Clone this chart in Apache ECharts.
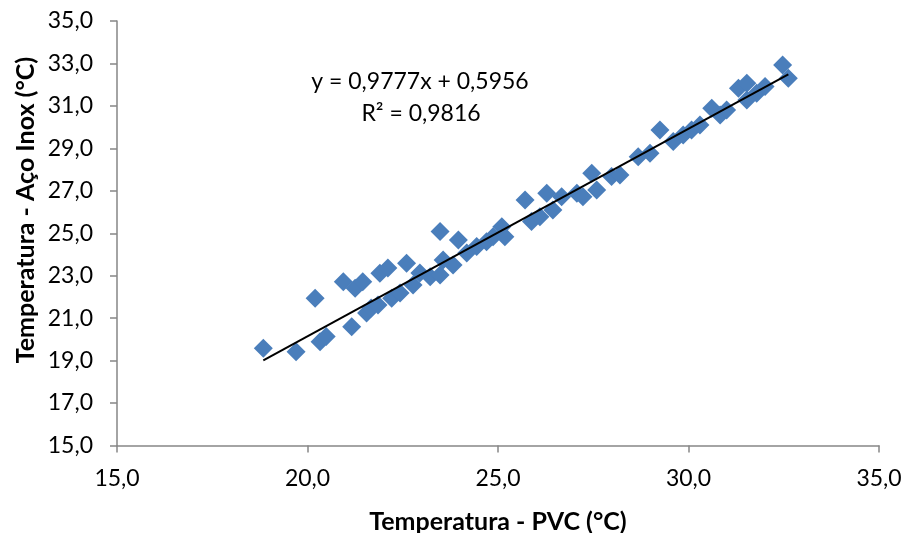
<!DOCTYPE html>
<html>
<head>
<meta charset="utf-8">
<script src="https://cdn.jsdelivr.net/npm/echarts@6/dist/echarts.min.js"></script>
<style>html,body{margin:0;padding:0;background:#fff}#c{width:906px;height:533px}</style>
</head>
<body>
<div id="c"></div>
<script>
// Temperatura - PVC (°C)
const pvc = [18.84,19.70,20.20,20.33,20.49,20.94,21.16,21.25,21.45,21.55,21.67,21.85,21.90,22.11,22.21,22.43,22.60,22.77,22.95,23.22,23.48,23.48,23.56,23.82,23.96,24.18,24.44,24.70,24.87,25.10,25.18,25.71,25.88,26.10,26.28,26.44,26.67,27.07,27.23,27.46,27.59,27.98,28.20,28.68,28.99,29.25,29.60,29.86,30.08,30.30,30.61,30.83,31.00,31.31,31.53,31.53,31.79,32.01,32.47,32.62];
// Temperatura - Aço Inox (°C)
const inox = [19.58,19.42,21.94,19.89,20.13,22.72,20.60,22.41,22.72,21.24,21.48,21.62,23.11,23.36,21.94,22.19,23.59,22.56,23.13,22.95,23.03,25.08,23.74,23.51,24.68,24.07,24.37,24.60,24.84,25.31,24.84,26.57,25.55,25.78,26.88,26.10,26.72,26.88,26.72,27.83,27.04,27.67,27.75,28.61,28.77,29.87,29.32,29.63,29.87,30.10,30.89,30.57,30.81,31.83,32.07,31.28,31.60,31.91,32.93,32.30];
// trendline coefficients shown on the chart
const slope = 0.9777;
const intercept = 0.5956;
const equationLines = ['y = 0,9777x + 0,5956', 'R² = 0,9816'];
const xTitle = 'Temperatura - PVC (°C)';
const yTitle = 'Temperatura - Aço Inox (°C)';

const points = pvc.map((x, i) => [x, inox[i]]);
const xMin = Math.min(...pvc), xMax = Math.max(...pvc);
const trend = [[xMin, slope * xMin + intercept], [xMax, slope * xMax + intercept]];
const fmt = v => v.toFixed(1).replace('.', ',');
const FONT = 'Lato';
const axisCol = '#868686';

const chart = echarts.init(document.getElementById('c'), null, {renderer: 'canvas'});
chart.setOption({
  backgroundColor: '#fff',
  animation: false,
  grid: {left: 117, right: 27, top: 21, bottom: 87.5, containLabel: false, outerBoundsMode: 'none'},
  xAxis: {
    type: 'value', min: 15, max: 35, interval: 5,
    axisLine: {show: true, lineStyle: {color: axisCol, width: 1.5}},
    axisTick: {show: true, length: 7, lineStyle: {color: axisCol, width: 1.5}},
    splitLine: {show: false},
    axisLabel: {formatter: fmt, color: '#000', fontFamily: FONT, fontSize: 23, margin: 22},
    name: xTitle, nameLocation: 'middle', nameGap: 64,
    nameTextStyle: {color: '#000', fontFamily: FONT, fontSize: 25, fontWeight: 'bold'}
  },
  yAxis: {
    type: 'value', min: 15, max: 35, interval: 2,
    axisLine: {show: true, lineStyle: {color: axisCol, width: 1.5}},
    axisTick: {show: true, length: 7, lineStyle: {color: axisCol, width: 1.5}},
    splitLine: {show: false},
    axisLabel: {formatter: fmt, color: '#000', fontFamily: FONT, fontSize: 23, margin: 24}
  },
  graphic: [
    {type: 'text', x: 26, y: 210, rotation: Math.PI / 2,
     style: {text: yTitle, fill: '#000', font: 'bold 25px Lato', textAlign: 'center', textVerticalAlign: 'middle'}},
    {type: 'text', x: 420, y: 82,
     style: {text: equationLines[0], fill: '#000', font: '23px Lato', textAlign: 'center', textVerticalAlign: 'middle'}},
    {type: 'text', x: 421, y: 114,
     style: {text: equationLines[1], fill: '#000', font: '23px Lato', textAlign: 'center', textVerticalAlign: 'middle'}}
  ],
  series: [
    {type: 'scatter', data: points, symbol: 'diamond', symbolSize: 19,
     itemStyle: {color: '#4A7EBB', opacity: 1}, z: 2},
    {type: 'line', data: trend, showSymbol: false, symbol: 'none',
     lineStyle: {color: '#000', width: 2}, z: 3, silent: true}
  ]
});
</script>
</body>
</html>
